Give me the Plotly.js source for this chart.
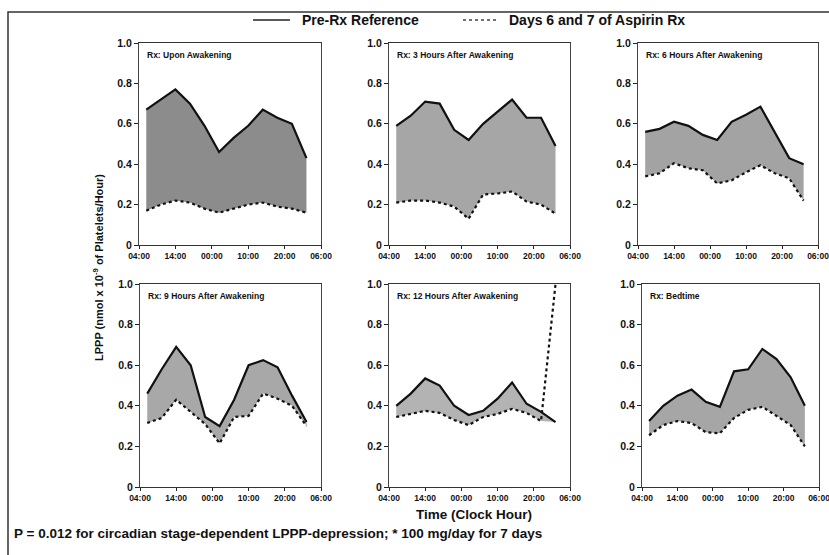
<!DOCTYPE html>
<html>
<head>
<meta charset="utf-8">
<script src="https://cdn.plot.ly/plotly-3.0.1.min.js"></script>
<style>html,body{margin:0;padding:0;background:#fff;}#chart{width:829px;height:555px;}</style>
</head>
<body>
<div id="chart"></div>
<script>
// Sampling times, hours after 04:00 on the first day
const hoursSince0400 = [2, 6, 10, 14, 18, 22, 26, 30, 34, 38, 42, 46];
const xTickVals = [0, 10, 20, 30, 40, 50];
const xTickText = ['04:00', '14:00', '00:00', '10:00', '20:00', '06:00'];
const yTickVals = [0, 0.2, 0.4, 0.6, 0.8, 1.0];
const yTickText = ['0', '0.2', '0.4', '0.6', '0.8', '1.0'];

const panelTitles = [
  'Rx: Upon Awakening',
  'Rx: 3 Hours After Awakening',
  'Rx: 6 Hours After Awakening',
  'Rx: 9 Hours After Awakening',
  'Rx: 12 Hours After Awakening',
  'Rx: Bedtime'
];

// Pre-Rx Reference (solid)
const refUponAwakening = [0.67, 0.72, 0.77, 0.70, 0.59, 0.46, 0.53, 0.59, 0.67, 0.63, 0.60, 0.43];
const ref3Hours        = [0.59, 0.64, 0.71, 0.70, 0.57, 0.52, 0.60, 0.66, 0.72, 0.63, 0.63, 0.49];
const ref6Hours        = [0.56, 0.575, 0.61, 0.59, 0.545, 0.52, 0.61, 0.645, 0.685, 0.56, 0.43, 0.40];
const ref9Hours        = [0.46, 0.58, 0.69, 0.60, 0.345, 0.30, 0.43, 0.60, 0.625, 0.59, 0.45, 0.32];
const ref12Hours       = [0.40, 0.46, 0.535, 0.50, 0.40, 0.355, 0.375, 0.435, 0.515, 0.41, 0.37, 0.32];
const refBedtime       = [0.325, 0.40, 0.45, 0.48, 0.42, 0.395, 0.57, 0.58, 0.68, 0.63, 0.54, 0.40];

// Days 6 and 7 of Aspirin Rx (dotted)
const aspUponAwakening = [0.17, 0.20, 0.22, 0.21, 0.18, 0.16, 0.18, 0.20, 0.21, 0.19, 0.18, 0.16];
const asp3Hours        = [0.21, 0.22, 0.22, 0.21, 0.19, 0.13, 0.25, 0.255, 0.265, 0.215, 0.20, 0.155];
const asp6Hours        = [0.34, 0.355, 0.405, 0.38, 0.37, 0.305, 0.32, 0.36, 0.395, 0.355, 0.33, 0.22];
const asp9Hours        = [0.315, 0.34, 0.43, 0.37, 0.31, 0.215, 0.345, 0.35, 0.46, 0.435, 0.40, 0.30];
const asp12Hours       = [0.345, 0.36, 0.375, 0.365, 0.33, 0.305, 0.345, 0.36, 0.385, 0.365, 0.325, 1.0];
const aspBedtime       = [0.255, 0.305, 0.325, 0.315, 0.27, 0.265, 0.34, 0.38, 0.395, 0.35, 0.305, 0.20];

const refSeries = [refUponAwakening, ref3Hours, ref6Hours, ref9Hours, ref12Hours, refBedtime];
const aspSeries = [aspUponAwakening, asp3Hours, asp6Hours, asp9Hours, asp12Hours, aspBedtime];

const W = 829, H = 555;
const px = v => v / W;
const py = v => 1 - v / H;

// panel boxes in pixels: [left, right, top, bottom]
const boxes = [
  [139, 321, 43, 245], [389, 570, 43, 245], [638, 818, 43, 245],
  [140, 321, 284, 487], [389, 570, 284, 487], [642, 819, 284, 487]
];
const fills = ['#8c8c8c', '#a6a6a6', '#a3a3a3', '#a8a8a8', '#b3b3b3', '#a6a6a6'];

const FONT = 'Liberation Sans, Arial, sans-serif';
const traces = [];
const layout = {
  width: W, height: H,
  margin: {l: 0, r: 0, t: 0, b: 0},
  paper_bgcolor: '#ffffff', plot_bgcolor: '#ffffff',
  showlegend: false,
  font: {family: FONT, color: '#111'},
  shapes: [], annotations: []
};

for (let i = 0; i < 6; i++) {
  const n = i === 0 ? '' : String(i + 1);
  const xa = 'x' + n, ya = 'y' + n;
  const ref = refSeries[i], asp = aspSeries[i];
  const lower = ref.map((r, k) => Math.min(r, asp[k]));
  traces.push({x: hoursSince0400, y: lower, xaxis: xa, yaxis: ya, mode: 'lines',
    line: {width: 0, color: 'rgba(0,0,0,0)'}, hoverinfo: 'skip'});
  traces.push({x: hoursSince0400, y: ref, xaxis: xa, yaxis: ya, mode: 'lines', name: 'Pre-Rx Reference',
    fill: 'tonexty', fillcolor: fills[i], line: {color: '#111', width: 2.2}});
  traces.push({x: hoursSince0400, y: asp, xaxis: xa, yaxis: ya, mode: 'lines', name: 'Days 6 and 7 of Aspirin Rx',
    line: {color: '#111', width: 2.2, dash: 'dot'}, cliponaxis: true});
  const b = boxes[i];
  layout['xaxis' + n] = {
    domain: [px(b[0]), px(b[1])], anchor: ya, range: [0, 50],
    tickvals: xTickVals, ticktext: xTickText, ticks: 'outside', ticklen: 3, tickwidth: 1, tickcolor: '#222',
    ticklabeloverflow: 'allow',
    showline: true, linecolor: '#333', linewidth: 1, mirror: true, showgrid: false, zeroline: false,
    tickfont: {size: 8.5, family: FONT, weight: 'bold', color: '#111'}, fixedrange: true
  };
  layout['yaxis' + n] = {
    domain: [py(b[3]), py(b[2])], anchor: xa, range: [0, 1],
    tickvals: yTickVals, ticktext: yTickText, ticks: 'outside', ticklen: 4, tickwidth: 1, tickcolor: '#222',
    showline: true, linecolor: '#444', linewidth: 1, mirror: true, showgrid: false, zeroline: false,
    tickfont: {size: 10.5, family: FONT, weight: 'bold', color: '#111'}, fixedrange: true
  };
  layout.annotations.push({
    xref: xa + ' domain', yref: ya + ' domain', x: 0.035, y: 0.94,
    xanchor: 'left', yanchor: 'middle', showarrow: false, text: panelTitles[i],
    font: {size: 8.5, family: FONT, weight: 'bold', color: '#111'}
  });
}

// outer frame
layout.shapes.push({type: 'rect', xref: 'paper', yref: 'paper', x0: px(8), x1: px(840), y0: py(12), y1: py(570),
  line: {color: '#333', width: 1.5}, fillcolor: 'rgba(0,0,0,0)'});
// legend samples
layout.shapes.push({type: 'line', xref: 'paper', yref: 'paper', x0: px(253), x1: px(290), y0: py(20), y1: py(20),
  line: {color: '#222', width: 1.5}});
layout.shapes.push({type: 'line', xref: 'paper', yref: 'paper', x0: px(463), x1: px(497), y0: py(20), y1: py(20),
  line: {color: '#444', width: 1.3, dash: 'dot'}});

const legFont = {size: 14, family: FONT, weight: 'bold', color: '#111'};
const textFont = {size: 13.5, family: FONT, weight: 'bold', color: '#111'};
layout.annotations.push({xref: 'paper', yref: 'paper', x: px(300), y: py(20), xanchor: 'left', yanchor: 'middle',
  showarrow: false, text: 'Pre-Rx Reference', font: legFont});
layout.annotations.push({xref: 'paper', yref: 'paper', x: px(507), y: py(20), xanchor: 'left', yanchor: 'middle',
  showarrow: false, text: 'Days 6 and 7 of Aspirin Rx', font: legFont});
layout.annotations.push({xref: 'paper', yref: 'paper', x: px(98), y: py(268), xanchor: 'center', yanchor: 'middle',
  showarrow: false, textangle: -90, text: 'LPPP (nmol x 10<sup>-9</sup> of Platelets/Hour)', font: {size: 11, family: FONT, weight: 'bold', color: '#111'}});
layout.annotations.push({xref: 'paper', yref: 'paper', x: px(474), y: py(514), xanchor: 'center', yanchor: 'middle',
  showarrow: false, text: 'Time (Clock Hour)', font: textFont});
layout.annotations.push({xref: 'paper', yref: 'paper', x: px(12), y: py(533), xanchor: 'left', yanchor: 'middle',
  showarrow: false, text: 'P = 0.012 for circadian stage-dependent LPPP-depression; * 100 mg/day for 7 days', font: textFont});

Plotly.newPlot('chart', traces, layout, {displayModeBar: false, staticPlot: true});
</script>
</body>
</html>
